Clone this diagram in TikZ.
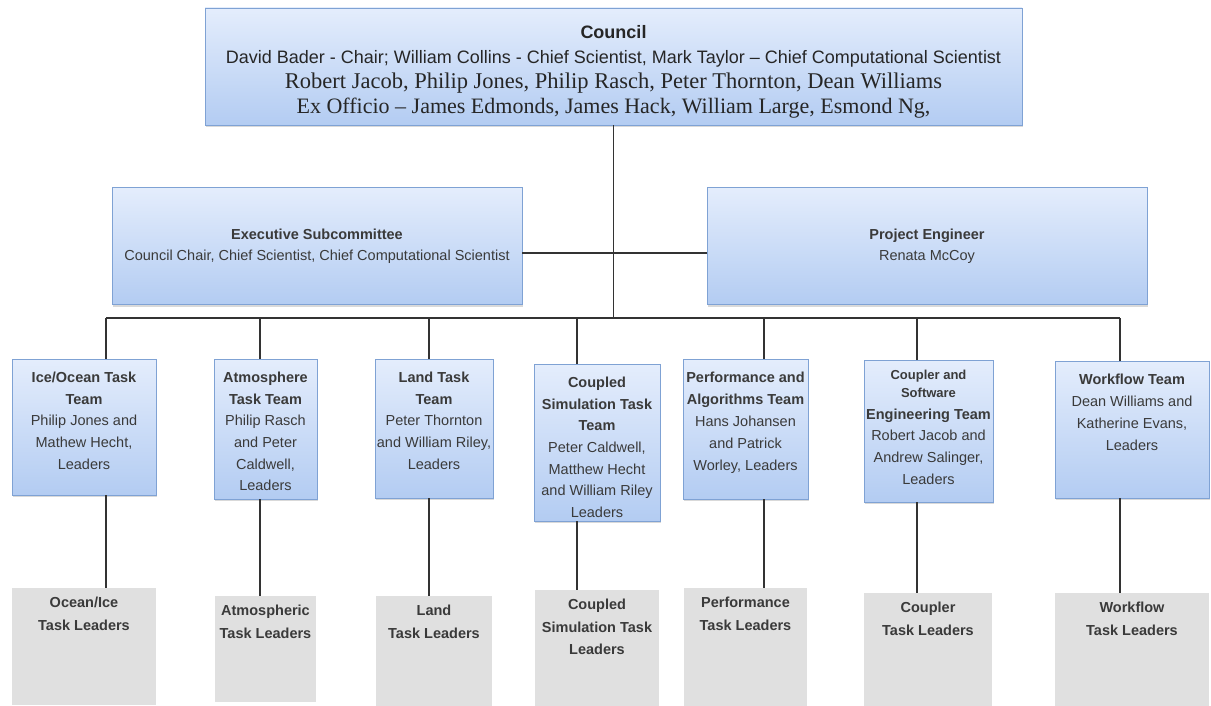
\documentclass[tikz,border=0pt]{standalone}
\usepackage{fontspec}
\setmainfont{Liberation Sans}
\newfontfamily\timesfont{Liberation Serif}
\usepackage{tikz}
\usetikzlibrary{shadows}
\usepackage{xcolor}

\definecolor{boxtop}{HTML}{E4EDFC}
\definecolor{boxbot}{HTML}{B3CCF2}
\definecolor{boxedge}{HTML}{7FA2D4}
\definecolor{leadgray}{HTML}{E0E0E0}
\definecolor{inkgray}{HTML}{3A3A3A}
\definecolor{linkgray}{HTML}{333333}

\begin{document}
\begin{tikzpicture}[x=1pt, y=-1pt,
    box/.style={draw=boxedge, line width=0.8pt, top color=boxtop, bottom color=boxbot,
        drop shadow={shadow xshift=1pt, shadow yshift=-2pt, opacity=0.3}},
    lead/.style={fill=leadgray, inner sep=0pt},
    link/.style={draw=linkgray, line width=1.6pt},
    teamtxt/.style={below=13pt, align=center, inner sep=0pt, text=inkgray,
        font=\fontsize{14.5}{21.7}\selectfont},
    leadtxt/.style={below=9pt, align=center, inner sep=0pt, text=inkgray,
        font=\bfseries\fontsize{14.5}{22.5}\selectfont}]
    \useasboundingbox (0,0) rectangle (1211,706);

    % council and the two boxes under it
    \node[box, minimum width=817pt, minimum height=117pt,
        label={[below=17.5pt, align=center, inner sep=0pt, text=black!85,
            font=\fontsize{18}{25}\selectfont]north:{\textbf{Council}\\
         David Bader - Chair; William Collins - Chief Scientist, Mark Taylor – Chief Computational Scientist\\
         {\timesfont\fontsize{22.5}{25}\selectfont Robert Jacob, Philip Jones, Philip Rasch, Peter Thornton, Dean Williams}\\
         {\timesfont\fontsize{22}{25}\selectfont Ex Officio – James Edmonds, James Hack, William Large, Esmond Ng,}}}]
        (council) at (613.5,66.5) {};
    \node[box, minimum width=410pt, minimum height=117pt, align=center, text=inkgray,
        font=\fontsize{14.5}{21}\selectfont] (exec) at (317,246)
        {\textbf{Executive Subcommittee}\\Council Chair, Chief Scientist, Chief Computational Scientist};
    \node[box, minimum width=440pt, minimum height=117pt, align=center, text=inkgray,
        font=\fontsize{14.5}{21}\selectfont] (projeng) at (927,246)
        {\textbf{Project Engineer}\\Renata McCoy};

    % task teams
    \node[box, minimum width=144pt, minimum height=136pt,
        label={[teamtxt]north:{\textbf{Ice/Ocean Task}\\\textbf{Team}\\Philip Jones and\\Mathew Hecht,\\Leaders}}]
        (iceocean) at (84,427) {};
    \node[box, minimum width=103pt, minimum height=140pt,
        label={[teamtxt]north:{\textbf{Atmosphere}\\\textbf{Task Team}\\Philip Rasch\\and Peter\\Caldwell,\\Leaders}}]
        (atmos) at (265.5,429) {};
    \node[box, minimum width=118pt, minimum height=139pt,
        label={[teamtxt]north:{\textbf{Land Task}\\\textbf{Team}\\Peter Thornton\\and William Riley,\\Leaders}}]
        (land) at (434,428.5) {};
    \node[box, minimum width=126pt, minimum height=157pt,
        label={[teamtxt]north:{\textbf{Coupled}\\\textbf{Simulation Task}\\\textbf{Team}\\Peter Caldwell,\\Matthew Hecht\\and William Riley\\Leaders}}]
        (coupled) at (597,442.5) {};
    \node[box, minimum width=125pt, minimum height=140pt,
        label={[teamtxt, font=\fontsize{14.5}{22}\selectfont]north:{\textbf{Performance and}\\\textbf{Algorithms Team}\\Hans Johansen\\and Patrick\\Worley, Leaders}}]
        (perf) at (745.5,429) {};
    \node[box, minimum width=129pt, minimum height=142pt,
        label={[teamtxt, yshift=3pt]north:{{\fontsize{13}{18}\selectfont\textbf{Coupler and}}\\[-3.5pt]{\fontsize{13}{18}\selectfont\textbf{Software}}\\\textbf{Engineering Team}\\Robert Jacob and\\Andrew Salinger,\\Leaders}}]
        (coupler) at (928.5,431) {};
    \node[box, minimum width=154pt, minimum height=137pt,
        label={[teamtxt, font=\fontsize{14.5}{22}\selectfont]north:{\textbf{Workflow Team}\\Dean Williams and\\Katherine Evans,\\Leaders}}]
        (workflow) at (1132,429.5) {};

    % task leader boxes
    \node[lead, minimum width=144pt, minimum height=117pt,
        label={[leadtxt]north:{Ocean/Ice\\Task Leaders}}] (iceocean-lead) at (84,646.5) {};
    \node[lead, minimum width=101pt, minimum height=106pt,
        label={[leadtxt]north:{Atmospheric\\Task Leaders}}] (atmos-lead) at (265.5,649) {};
    \node[lead, minimum width=116pt, minimum height=110pt,
        label={[leadtxt]north:{Land\\Task Leaders}}] (land-lead) at (434,651) {};
    \node[lead, minimum width=124pt, minimum height=116pt,
        label={[leadtxt]north:{Coupled\\Simulation Task\\Leaders}}] (coupled-lead) at (597,648) {};
    \node[lead, minimum width=123pt, minimum height=118pt,
        label={[leadtxt]north:{Performance\\Task Leaders}}] (perf-lead) at (745.5,647) {};
    \node[lead, minimum width=128pt, minimum height=113pt,
        label={[leadtxt]north:{Coupler\\Task Leaders}}] (coupler-lead) at (928,649.5) {};
    \node[lead, minimum width=154pt, minimum height=113pt,
        label={[leadtxt]north:{Workflow\\Task Leaders}}] (workflow-lead) at (1132,649.5) {};

    % bus taps
    \coordinate (tap-iceocean) at (106,318);
    \coordinate (tap-atmos) at (260,318);
    \coordinate (tap-land) at (429,318);
    \coordinate (tap-coupled) at (577,318);
    \coordinate (tap-perf) at (764,318);
    \coordinate (tap-coupler) at (917,318);
    \coordinate (tap-workflow) at (1120,318);

    \draw[link] (council.south) -- (council.south |- tap-iceocean);
    \draw[link] ([yshift=-7pt]exec.east) -- ([yshift=-7pt]projeng.west);
    \draw[link] (tap-iceocean) -- (tap-workflow);

    \draw[link] (tap-iceocean) -- (tap-iceocean |- iceocean.north);
    \draw[link] (tap-iceocean |- iceocean.south) -- (tap-iceocean |- iceocean-lead.north);
    \draw[link] (tap-atmos) -- (tap-atmos |- atmos.north);
    \draw[link] (tap-atmos |- atmos.south) -- (tap-atmos |- atmos-lead.north);
    \draw[link] (tap-land) -- (tap-land |- land.north);
    \draw[link] (tap-land |- land.south) -- (tap-land |- land-lead.north);
    \draw[link] (tap-coupled) -- (tap-coupled |- coupled.north);
    \draw[link] (tap-coupled |- coupled.south) -- (tap-coupled |- coupled-lead.north);
    \draw[link] (tap-perf) -- (tap-perf |- perf.north);
    \draw[link] (tap-perf |- perf.south) -- (tap-perf |- perf-lead.north);
    \draw[link] (tap-coupler) -- (tap-coupler |- coupler.north);
    \draw[link] (tap-coupler |- coupler.south) -- (tap-coupler |- coupler-lead.north);
    \draw[link] (tap-workflow) -- (tap-workflow |- workflow.north);
    \draw[link] (tap-workflow |- workflow.south) -- (tap-workflow |- workflow-lead.north);
\end{tikzpicture}
\end{document}
